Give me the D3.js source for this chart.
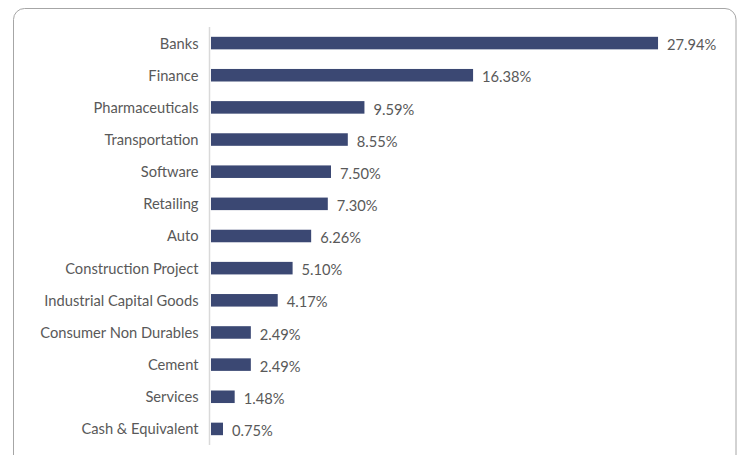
<!DOCTYPE html>
<html><head><meta charset="utf-8">
<script src="https://cdn.jsdelivr.net/npm/d3@7"></script>
<style>body{margin:0;background:#fff}svg{display:block}</style>
</head><body>
<svg id="c" width="742" height="455"></svg>
<script>
const categories = ["Banks","Finance","Pharmaceuticals","Transportation","Software","Retailing","Auto","Construction Project","Industrial Capital Goods","Consumer Non Durables","Cement","Services","Cash & Equivalent"];
const values = [27.94,16.38,9.59,8.55,7.50,7.30,6.26,5.10,4.17,2.49,2.49,1.48,0.75];
const valueLabels = ["27.94%","16.38%","9.59%","8.55%","7.50%","7.30%","6.26%","5.10%","4.17%","2.49%","2.49%","1.48%","0.75%"];

const svg = d3.select("#c");
const font = "Lato, 'Open Sans', sans-serif";
const textColor = "#595959";

svg.append("rect").attr("x",13.5).attr("y",8.5).attr("width",722.5).attr("height",470)
  .attr("rx",11).attr("fill","#fff").attr("stroke","#a6a6a6").attr("stroke-width",1);

const x = d3.scaleLinear().domain([0,28]).range([211,659]);
const y = d3.scaleBand().domain(categories).range([27,445]).paddingInner(0.61).paddingOuter(0.305);

svg.append("g").selectAll("rect").data(categories).join("rect")
  .attr("x",x(0)).attr("y",d=>y(d)).attr("height",y.bandwidth())
  .attr("width",(d,i)=>x(values[i])-x(0)).attr("fill","#3b4873");

const yAxis = svg.append("g").attr("transform",`translate(209.5,0)`)
  .call(d3.axisLeft(y).tickSize(0).tickPadding(11));
yAxis.select(".domain").attr("stroke","#d9d9d9").attr("stroke-width",1.5).attr("d","M0,27V445");
yAxis.selectAll("text").attr("font-family",font).attr("font-size","14.7px").attr("fill",textColor).attr("dy","0.37em");

svg.append("g").selectAll("text").data(categories).join("text")
  .attr("x",(d,i)=>x(values[i])+9).attr("y",d=>y(d)+y.bandwidth()/2+2)
  .attr("dy","0.35em").attr("font-family",font).attr("font-size","14.7px").attr("fill",textColor)
  .text((d,i)=>valueLabels[i]);
</script>
</body></html>
